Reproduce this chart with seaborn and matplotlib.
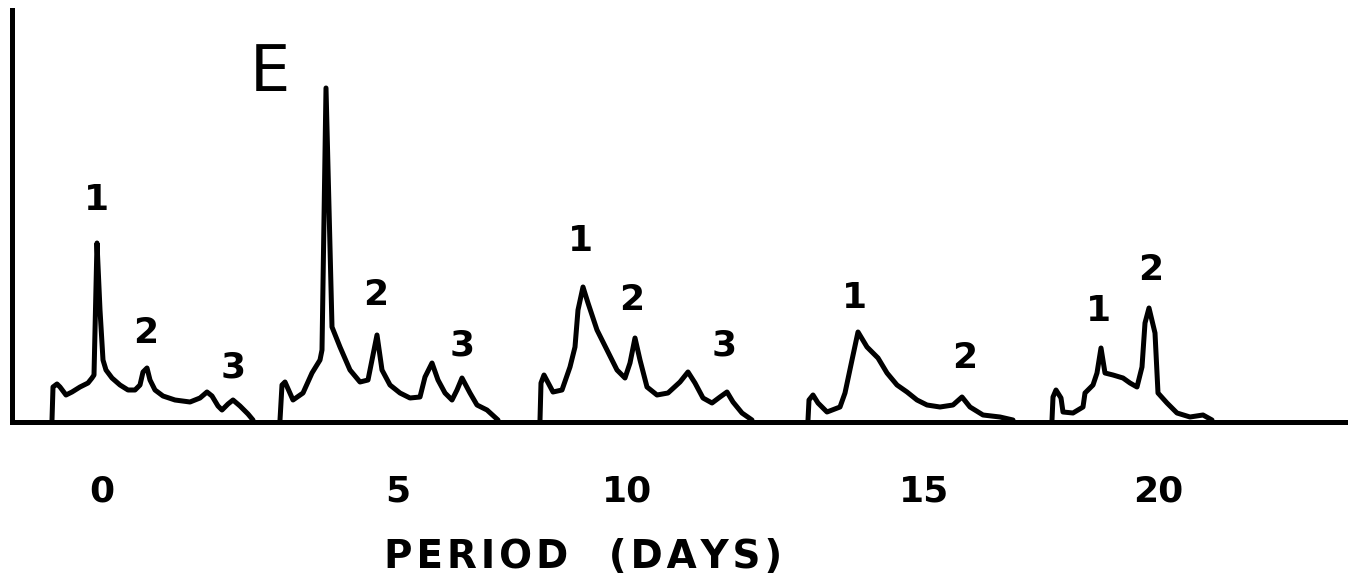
import matplotlib
matplotlib.use("Agg")
import matplotlib.pyplot as plt
import seaborn as sns
import pandas as pd

# ---- data (x: position along period axis, y: response height) ----
day0_x = [52, 53, 57, 60, 66, 72, 80, 88, 92, 94, 97, 100, 103, 106, 112, 120, 128, 135, 140, 143, 147, 150, 155, 163, 175, 190, 200, 207, 212, 218, 222, 228, 233, 240, 248, 253]
day0_y = [0, 33, 36, 33, 25, 28, 33, 37, 42, 45, 177, 110, 60, 50, 42, 35, 30, 30, 35, 48, 52, 40, 30, 24, 20, 18, 22, 28, 24, 14, 10, 16, 20, 14, 6, 0]

day5_x = [280, 282, 285, 293, 303, 312, 320, 322, 326, 332, 340, 350, 360, 368, 377, 382, 390, 400, 410, 420, 425, 432, 438, 445, 452, 457, 462, 470, 477, 487, 498]
day5_y = [0, 35, 38, 20, 27, 47, 60, 70, 332, 93, 73, 50, 38, 40, 85, 50, 35, 27, 22, 23, 43, 57, 40, 27, 20, 30, 42, 27, 15, 10, 0]

day10_x = [540, 541, 544, 553, 562, 570, 575, 578, 583, 588, 597, 607, 617, 625, 630, 635, 640, 647, 657, 668, 680, 688, 695, 703, 712, 720, 727, 733, 742, 752]
day10_y = [0, 37, 45, 28, 30, 53, 73, 110, 133, 117, 90, 70, 50, 42, 57, 82, 60, 33, 25, 27, 38, 48, 37, 22, 17, 23, 28, 18, 7, 0]

day15_x = [808, 809, 813, 818, 827, 840, 845, 852, 858, 867, 878, 887, 897, 907, 917, 927, 940, 953, 962, 970, 983, 1000, 1013]
day15_y = [0, 20, 25, 17, 8, 13, 27, 60, 88, 73, 62, 47, 35, 28, 20, 15, 13, 15, 23, 13, 5, 3, 0]

day20_x = [1052, 1053, 1056, 1061, 1063, 1073, 1083, 1085, 1093, 1097, 1101, 1105, 1113, 1123, 1130, 1137, 1142, 1145, 1149, 1155, 1158, 1167, 1177, 1190, 1203, 1212]
day20_y = [0, 23, 30, 22, 8, 7, 13, 27, 35, 47, 72, 47, 45, 42, 37, 33, 53, 97, 112, 87, 27, 17, 7, 3, 5, 0]

tick_positions = [102, 398, 627, 924, 1158]
tick_labels = ["0", "5", "10", "15", "20"]

peak_labels = ["1", "2", "3", "2", "3", "1", "2", "3", "1", "2", "1", "2"]
peak_label_x = [97, 146, 233, 376, 462, 580, 632, 724, 855, 965, 1099, 1151]
peak_label_y = [220, 87, 53, 125, 75, 179, 120, 75, 122, 62, 109, 150]

panel_letter = "E"
hs = "\u200a"
x_title = hs.join("PERIOD") + "   " + hs.join("(DAYS)")

traces = {"0": (day0_x, day0_y), "5": (day5_x, day5_y), "10": (day10_x, day10_y),
          "15": (day15_x, day15_y), "20": (day20_x, day20_y)}
frames = []
for name, (xs, ys) in traces.items():
    frames.append(pd.DataFrame({"x": xs, "y": ys, "trace": name}))
df = pd.concat(frames, ignore_index=True)

sns.set_style("white")
plt.rcParams["font.family"] = ["DejaVu Sans"]
plt.rcParams["text.color"] = "black"
plt.rcParams["xtick.color"] = "black"
plt.rcParams["axes.labelcolor"] = "black"

W, H = 1349, 582
fig = plt.figure(figsize=(W / 100, H / 100), dpi=100)
ax = fig.add_axes([12 / W, (H - 422) / H, 1333 / W, 412 / H])

for name in traces:
    sub = df[df["trace"] == name]
    sns.lineplot(data=sub, x="x", y="y", ax=ax, color="black", linewidth=3.6,
                 sort=False, estimator=None, legend=False)

ax.set_xlim(12, 1345)
ax.set_ylim(-2, 410)

for s in ["top", "right"]:
    ax.spines[s].set_visible(False)
for s in ["left", "bottom"]:
    ax.spines[s].set_linewidth(3.6)
    ax.spines[s].set_color("black")

ax.set_yticks([])
ax.set_xticks(tick_positions)
ax.set_xticklabels(tick_labels, fontsize=26, fontweight="bold", color="black")
ax.tick_params(axis="x", length=0, pad=38)
ax.set_xlabel(x_title, fontsize=28, fontweight="bold", color="black", va="top")
ax.xaxis.set_label_coords((583 - 12) / 1333, (422 - 538) / 412)
ax.set_ylabel("")

for lab, px, py in zip(peak_labels, peak_label_x, peak_label_y):
    ax.text(px, py, lab, ha="center", va="center", fontsize=26, fontweight="bold",
            color="black")

ax.text(270, 347, panel_letter, ha="center", va="center", fontsize=46, color="black")

fig.savefig("out.png", dpi=100, facecolor="white")
